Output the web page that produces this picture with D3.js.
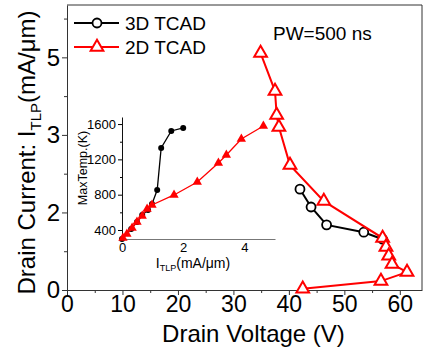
<!DOCTYPE html>
<html>
<head>
<meta charset="utf-8">
<script src="https://cdn.jsdelivr.net/npm/d3@7"></script>
<style>
    body { margin: 0; background: #fff; }
    svg { display: block; font-family: Arial, "Liberation Sans", sans-serif; }
</style>
</head>
<body>
<div id="chart"></div>
<script>
// main plot: drain voltage (V) vs drain current (axis units)
const tcad3dV = [42.0, 44.0, 46.8, 53.5, 56.9];
const tcad3dI = [2.60, 2.14, 1.68, 1.49, 1.31];

const tcad2dV = [34.9, 37.5, 37.8, 38.2, 40.2, 46.3, 56.9, 57.5, 58.0, 58.6, 61.3, 56.6, 42.5];
const tcad2dI = [6.11, 5.13, 4.51, 4.20, 3.22, 2.29, 1.34, 1.11, 0.88, 0.67, 0.46, 0.23, 0.03];

const xTicks = [0, 10, 20, 30, 40, 50, 60];
const yTicks = [0, 2, 4, 6];
const yTickLabels = ["0", "2", "3", "5"];

// inset: I_TLP (mA/um) vs max temperature (K)
const inset3dI = [0.0, 0.30, 0.49, 0.66, 0.85, 0.98, 1.15, 1.28, 1.61, 2.0];
const inset3dT = [298, 411, 491, 570, 627, 695, 853, 1329, 1522, 1556];

const inset2dI = [0.03, 0.16, 0.33, 0.49, 0.66, 0.82, 0.98, 1.70, 2.46, 3.15, 3.41, 3.90, 4.62];
const inset2dT = [309, 355, 423, 491, 559, 638, 683, 797, 944, 1159, 1250, 1431, 1578];

const insetXTicks = [0, 2, 4];
const insetYTicks = [400, 800, 1200, 1600];

const width = 424, height = 349;
const margin = {top: 5, right: 2, bottom: 59, left: 67};

const svg = d3.select("#chart").append("svg")
    .attr("width", width)
    .attr("height", height);

const x = d3.scaleLinear().domain([0, 64]).range([margin.left, width - margin.right]);
const y = d3.scaleLinear().domain([0, 7.35]).range([height - margin.bottom, margin.top]);

// frame (top + right)
svg.append("path")
    .attr("d", `M${x(0)},${y(7.35)}H${x(64)}V${y(0)}`)
    .attr("fill", "none")
    .attr("stroke", "#333")
    .attr("stroke-width", 1);

// x axis
const xAxis = svg.append("g")
    .attr("transform", `translate(0,${y(0)})`)
    .call(d3.axisBottom(x).tickValues(xTicks).tickSize(5).tickPadding(1).tickSizeOuter(0));
svg.append("g")
    .attr("transform", `translate(0,${y(0)})`)
    .call(d3.axisBottom(x).tickValues([5, 15, 25, 35, 45, 55]).tickSize(3).tickFormat("").tickSizeOuter(0))
    .select(".domain").remove();

// y axis
const yAxis = svg.append("g")
    .attr("transform", `translate(${x(0)},0)`)
    .call(d3.axisLeft(y).tickValues(yTicks).tickSize(5).tickPadding(2).tickSizeOuter(0)
        .tickFormat((d, i) => yTickLabels[i]));
svg.append("g")
    .attr("transform", `translate(${x(0)},0)`)
    .call(d3.axisLeft(y).tickValues([1, 3, 5, 7]).tickSize(3).tickFormat("").tickSizeOuter(0))
    .select(".domain").remove();

svg.selectAll(".domain, .tick line").attr("stroke", "#333");
xAxis.selectAll("text").attr("font-size", 23).attr("fill", "#000").attr("font-family", null);
yAxis.selectAll("text").attr("font-size", 24).attr("fill", "#000").attr("font-family", null);

// axis titles
svg.append("text")
    .attr("x", (x(0) + x(64)) / 2 + 9)
    .attr("y", 342)
    .attr("text-anchor", "middle")
    .attr("font-size", 24)
    .text("Drain Voltage (V)");

const yTitle = svg.append("text")
    .attr("transform", `translate(35,${(y(0) + y(7.35)) / 2 + 5}) rotate(-90)`)
    .attr("text-anchor", "middle")
    .attr("font-size", 24);
yTitle.append("tspan").text("Drain Current: I");
yTitle.append("tspan").attr("font-size", 15).attr("dy", 6).text("TLP");
yTitle.append("tspan").attr("dy", -6).text("(mA/\u03bcm)");

// inset
const ix = d3.scaleLinear().domain([0, 5.0]).range([122, 275]);
const iy = d3.scaleLinear().domain([298, 1680]).range([239, 117]);

const ixAxis = svg.append("g")
    .attr("transform", `translate(0,${iy(298)})`)
    .call(d3.axisBottom(ix).tickValues(insetXTicks).tickFormat(d3.format("d"))
        .tickSize(0).tickPadding(4).tickSizeOuter(0));
ixAxis.select(".domain").attr("stroke", "#777");

const iyAxis = svg.append("g")
    .attr("transform", `translate(${ix(0)},0)`)
    .call(d3.axisLeft(iy).tickValues(insetYTicks).tickFormat(d3.format("d"))
        .tickSize(4).tickPadding(2).tickSizeOuter(0));
svg.append("g")
    .attr("transform", `translate(${ix(0)},0)`)
    .call(d3.axisLeft(iy).tickValues([600, 1000, 1400]).tickSize(2).tickFormat("").tickSizeOuter(0))
    .select(".domain").remove();
iyAxis.select(".domain").attr("stroke", "#111");

[ixAxis, iyAxis].forEach(a => a.selectAll("text")
    .attr("font-size", 13).attr("fill", "#000").attr("font-family", null));

const ixTitle = svg.append("text")
    .attr("x", 193)
    .attr("y", 268)
    .attr("text-anchor", "middle")
    .attr("font-size", 14);
ixTitle.append("tspan").text("I");
ixTitle.append("tspan").attr("font-size", 9).attr("dy", 3).text("TLP");
ixTitle.append("tspan").attr("dy", -3).text("(mA/\u03bcm)");

svg.append("text")
    .attr("transform", `translate(87,${(iy(298) + iy(1680)) / 2 - 10}) rotate(-90)`)
    .attr("text-anchor", "middle")
    .attr("font-size", 12.5)
    .text("MaxTemp.(K)");

const insetLine = d3.line().x(d => ix(d[0])).y(d => iy(d[1]));
const inset3d = inset3dI.map((v, i) => [v, inset3dT[i]]);
const inset2d = inset2dI.map((v, i) => [v, inset2dT[i]]);

svg.append("path").datum(inset3d)
    .attr("d", insetLine).attr("fill", "none").attr("stroke", "#000").attr("stroke-width", 1.3);
svg.selectAll(".i3").data(inset3d).enter().append("circle")
    .attr("cx", d => ix(d[0])).attr("cy", d => iy(d[1])).attr("r", 3).attr("fill", "#000");

svg.append("path").datum(inset2d)
    .attr("d", insetLine).attr("fill", "none").attr("stroke", "#f00").attr("stroke-width", 1.3);
const smallTri = d3.symbol().type(d3.symbolTriangle).size(38);
svg.selectAll(".i2").data(inset2d).enter().append("path")
    .attr("transform", d => `translate(${ix(d[0])},${iy(d[1])})`)
    .attr("d", smallTri).attr("fill", "#f00");

// main series
const mainLine = d3.line().x(d => x(d[0])).y(d => y(d[1]));
const main3d = tcad3dV.map((v, i) => [v, tcad3dI[i]]);
const main2d = tcad2dV.map((v, i) => [v, tcad2dI[i]]);

svg.append("path").datum(main3d)
    .attr("d", mainLine).attr("fill", "none").attr("stroke", "#000").attr("stroke-width", 2);
svg.selectAll(".m3").data(main3d).enter().append("circle")
    .attr("cx", d => x(d[0])).attr("cy", d => y(d[1])).attr("r", 4.5)
    .attr("fill", "#fff").attr("stroke", "#000").attr("stroke-width", 1.8);

svg.append("path").datum(main2d)
    .attr("d", mainLine).attr("fill", "none").attr("stroke", "#f00").attr("stroke-width", 2);
const bigTri = d3.symbol().type(d3.symbolTriangle).size(70);
svg.selectAll(".m2").data(main2d).enter().append("path")
    .attr("transform", d => `translate(${x(d[0])},${y(d[1])})`)
    .attr("d", bigTri).attr("fill", "#fff").attr("stroke", "#f00").attr("stroke-width", 2);

// legend
const legend = svg.append("g");
[
    {label: "3D TCAD", color: "#000", y: 23, shape: "circle"},
    {label: "2D TCAD", color: "#f00", y: 47, shape: "tri"}
].forEach(d => {
    legend.append("line")
        .attr("x1", 74).attr("x2", 119).attr("y1", d.y).attr("y2", d.y)
        .attr("stroke", d.color).attr("stroke-width", 2);
    if (d.shape === "circle") {
        legend.append("circle").attr("cx", 97).attr("cy", d.y).attr("r", 4.5)
            .attr("fill", "#fff").attr("stroke", d.color).attr("stroke-width", 1.8);
    } else {
        legend.append("path").attr("transform", `translate(97,${d.y})`)
            .attr("d", bigTri).attr("fill", "#fff").attr("stroke", d.color).attr("stroke-width", 2);
    }
    legend.append("text").attr("x", 125).attr("y", d.y + 7)
        .attr("font-size", 19).text(d.label);
});

svg.append("text")
    .attr("x", 273).attr("y", 40)
    .attr("font-size", 19)
    .text("PW=500 ns");
</script>
</body>
</html>
